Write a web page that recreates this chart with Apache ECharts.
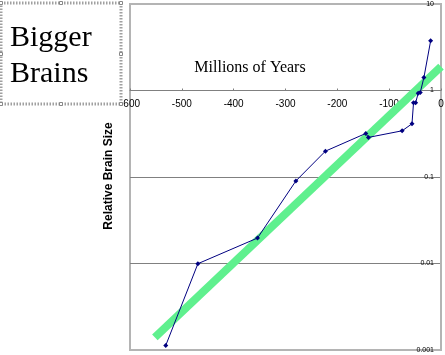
<!DOCTYPE html>
<html>
<head>
<meta charset="utf-8">
<script src="https://cdn.jsdelivr.net/npm/echarts@6/dist/echarts.min.js"></script>
<style>
html,body{margin:0;padding:0;background:#fff;}
#c{width:445px;height:355px;}
</style>
</head>
<body>
<div id="c"></div>
<script>
// Data
const years = [-531, -469, -354, -280, -223, -145, -140, -75, -56, -53, -49, -44, -40, -33, -20];
const brainSize = [0.00113, 0.00995, 0.0197, 0.090, 0.199, 0.319, 0.287, 0.342, 0.412, 0.72, 0.72, 0.93, 0.95, 1.41, 3.75];
const trendYears = [-552, 0];
const trendSize = [0.0014, 1.89];
const xMin = -600, xMax = 0, xStep = 100;
const yMin = 0.001, yMax = 10, yCross = 1;
const yTickLabels = ['0.001', '0.01', '0.1', '1', '10'];
const titleLines = ['Bigger', 'Brains'];
const xAxisTitle = 'Millions of Years';
const yAxisTitle = 'Relative Brain Size';

const brainData = years.map((x, i) => [x, brainSize[i]]);
const trendData = trendYears.map((x, i) => [x, trendSize[i]]);

function yLabel(v) {
  const e = Math.round(Math.log10(v));
  const idx = e + 3;
  return yTickLabels[idx] !== undefined ? yTickLabels[idx] : String(v);
}

// layout of the plot area (pixels)
const W = 445, H = 355;
const gLeft = 130, gRight = 4, gTop = 4, gBottom = 5;
const plotH = H - gTop - gBottom;
// fraction of the plot height above the crossing value on the log axis
const crossFrac = (Math.log10(yMax) - Math.log10(yCross)) / (Math.log10(yMax) - Math.log10(yMin));
const crossBottom = H - (gTop + plotH * crossFrac);

const chart = echarts.init(document.getElementById('c'), null, {renderer: 'canvas'});

const handles = [];
const hx = [1, 61, 121], hy = [3, 54, 104];
hx.forEach(function (x) {
  hy.forEach(function (y) {
    if (x === 61 && y === 54) return;
    handles.push({
      type: 'rect', z: 101,
      shape: {x: x - 1.5, y: y - 1.5, width: 3, height: 3},
      style: {fill: '#fff', stroke: '#888', lineWidth: 1}
    });
  });
});

chart.setOption({
  animation: false,
  grid: [
    {left: gLeft, right: gRight, top: gTop, bottom: gBottom, show: true, borderColor: '#b4b4b4', borderWidth: 2, backgroundColor: 'transparent', containLabel: false, outerBoundsMode: 'none'},
    {left: gLeft, right: gRight, top: gTop, bottom: crossBottom, show: false, containLabel: false, outerBoundsMode: 'none'}
  ],
  xAxis: [
    {
      gridIndex: 0, type: 'value', min: xMin, max: xMax, interval: xStep,
      axisLine: {show: false}, axisTick: {show: false}, axisLabel: {show: false}, splitLine: {show: false}
    },
    {
      gridIndex: 1, type: 'value', min: xMin, max: xMax, interval: xStep, position: 'bottom',
      axisLine: {show: true, onZero: false, lineStyle: {color: '#808080', width: 1}},
      axisTick: {show: true, inside: true, length: 2, lineStyle: {color: '#808080'}},
      axisLabel: {fontSize: 10, fontFamily: 'Arial, Liberation Sans', color: '#000', margin: 9, showMinLabel: true, showMaxLabel: true, hideOverlap: false},
      splitLine: {show: false}
    }
  ],
  yAxis: [
    {
      gridIndex: 0, type: 'log', logBase: 10, min: yMin, max: yMax,
      position: 'right',
      axisLine: {show: true, lineStyle: {color: '#b4b4b4', width: 2}},
      axisTick: {show: false},
      axisLabel: {inside: true, margin: 7, fontSize: 7, fontFamily: 'Arial, Liberation Sans', color: '#000', formatter: yLabel},
      splitLine: {show: true, lineStyle: {color: ['#b4b4b4', '#808080', '#808080', '#808080', '#b4b4b4'], width: 1}}
    },
    {
      gridIndex: 1, type: 'value', show: false, min: 0, max: 1,
      axisLine: {show: false}, axisLabel: {show: false}, axisTick: {show: false}, splitLine: {show: false}
    }
  ],
  series: [
    {
      type: 'line', xAxisIndex: 0, yAxisIndex: 0, data: trendData, showSymbol: false, symbol: 'none', clip: true, z: 2,
      lineStyle: {color: '#5ff08e', width: 8, cap: 'butt'}
    },
    {
      type: 'line', xAxisIndex: 0, yAxisIndex: 0, data: brainData, symbol: 'diamond', symbolSize: 5, z: 3,
      itemStyle: {color: '#000080'},
      lineStyle: {color: '#000080', width: 1}
    }
  ],
  graphic: [
    {
      type: 'rect', z: 100,
      shape: {x: 1, y: 3, width: 120, height: 101},
      style: {fill: '#fff', stroke: '#a0a0a0', lineWidth: 3, lineDash: [1.5, 1.5]}
    },
    {
      type: 'text', z: 102, left: 10, top: 20,
      style: {text: titleLines.join('\n'), font: '30px "Liberation Serif", "Times New Roman", serif', fill: '#000', lineHeight: 36}
    },
    {
      type: 'text', z: 102, x: 250, y: 68,
      style: {text: xAxisTitle, font: '16px "Liberation Serif", "Times New Roman", serif', fill: '#000', align: 'center', verticalAlign: 'middle'}
    },
    {
      type: 'text', z: 102, x: 109, y: 176, rotation: Math.PI / 2,
      style: {text: yAxisTitle, font: 'bold 12px "Liberation Sans", Arial, sans-serif', fill: '#000', align: 'center', verticalAlign: 'middle'}
    }
  ].concat(handles)
});
</script>
</body>
</html>
